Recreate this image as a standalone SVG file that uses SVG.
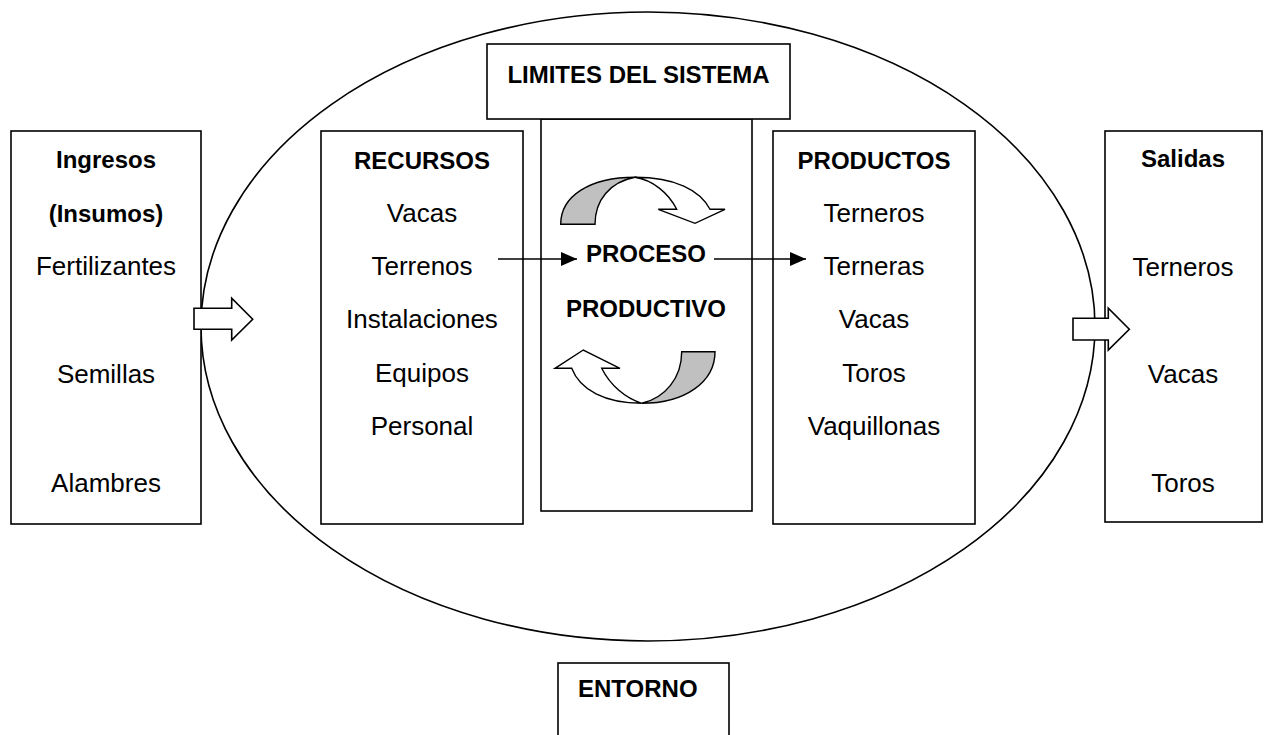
<svg xmlns="http://www.w3.org/2000/svg" width="1273" height="735" viewBox="0 0 1273 735">
<defs>
<style>
.box{fill:#fff;stroke:#000;stroke-width:1.6}
.t{font-family:"Liberation Sans",Arial,sans-serif;font-size:26px;fill:#000;text-anchor:middle}
.b{font-family:"Liberation Sans",Arial,sans-serif;font-size:24px;font-weight:bold;fill:#000;text-anchor:middle}
.blk{fill:#fff;stroke:#000;stroke-width:1.6;stroke-linejoin:miter}
.gray{fill:#c0c0c0;stroke:#000;stroke-width:1.4}
.wht{fill:#fff;stroke:#000;stroke-width:1.4}
.ln{stroke:#000;stroke-width:1.6;fill:none}
</style>
<marker id="ah2" viewBox="0 0 16 14" refX="16" refY="7" markerWidth="16" markerHeight="14" markerUnits="userSpaceOnUse" orient="auto">
<path d="M0,0 L16,7 L0,14 Z" fill="#000"/>
</marker>
</defs>
<rect width="1273" height="735" fill="#fff"/>

<g id="limites-sistema">
<ellipse cx="648" cy="326.5" rx="447" ry="314.5" fill="none" stroke="#000" stroke-width="1.6"/>
</g>

<g id="ingresos">
<rect class="box" x="11" y="131" width="190" height="393"/>
<text class="b" x="106" y="168">Ingresos</text>
<text class="b" x="106" y="222">(Insumos)</text>
<text class="t" x="106" y="275">Fertilizantes</text>
<text class="t" x="106" y="383">Semillas</text>
<text class="t" x="106" y="492">Alambres</text>
</g>

<g id="recursos">
<rect class="box" x="321" y="131" width="202" height="393"/>
<text class="b" x="422" y="169">RECURSOS</text>
<text class="t" x="422" y="222">Vacas</text>
<text class="t" x="422" y="275">Terrenos</text>
<text class="t" x="422" y="328">Instalaciones</text>
<text class="t" x="422" y="382">Equipos</text>
<text class="t" x="422" y="435">Personal</text>
</g>

<g id="proceso">
<rect class="box" x="541" y="119" width="211" height="392"/>
<text class="b" x="646" y="262">PROCESO</text>
<text class="b" x="646" y="317">PRODUCTIVO</text>
<path class="gray" d="M560.7,224.3 C560.7,196 590,177.3 635,177.3 C610,182 595,200 595,224.3 Z"/>
<path class="wht" d="M635,177.3 C675,177.3 700,190 710,209.3 L725,209.3 L695,223.3 L658.3,209.3 L676.7,209.3 C668,192 652,180 635,177.3 Z"/>
<path class="gray" d="M715,351.7 C715,382 685,403.3 641.7,403.3 C665,398 681.7,378 681.7,351.7 Z"/>
<path class="wht" d="M641.7,403.3 C605,403.3 580,390 571.7,368.3 L555,368.3 L583.3,350 L620,368.3 L601.7,368.3 C610,385 625,398 641.7,403.3 Z"/>
</g>

<g id="limites">
<rect class="box" x="487" y="44" width="303" height="75"/>
<text class="b" x="638.5" y="83">LIMITES DEL SISTEMA</text>
</g>

<g id="productos">
<rect class="box" x="773" y="131" width="202" height="393"/>
<text class="b" x="874" y="169">PRODUCTOS</text>
<text class="t" x="874" y="222">Terneros</text>
<text class="t" x="874" y="275">Terneras</text>
<text class="t" x="874" y="328">Vacas</text>
<text class="t" x="874" y="382">Toros</text>
<text class="t" x="874" y="435">Vaquillonas</text>
</g>

<g id="salidas">
<rect class="box" x="1105" y="131" width="157" height="391"/>
<text class="b" x="1183" y="167">Salidas</text>
<text class="t" x="1183" y="276">Terneros</text>
<text class="t" x="1183" y="383">Vacas</text>
<text class="t" x="1183" y="492">Toros</text>
</g>

<g id="entorno">
<rect class="box" x="558" y="663" width="171" height="100"/>
<text class="b" x="578" y="697" style="text-anchor:start">ENTORNO</text>
</g>

<g id="connectors">
<path class="blk" d="M194,308.3 L231.7,308.3 L231.7,298.3 L252.7,319.3 L231.7,340 L231.7,329.3 L194,329.3 Z"/>
<path class="blk" d="M1073,318.3 L1108.3,318.3 L1108.3,308.3 L1129.3,329.3 L1108.3,350 L1108.3,340 L1073,340 Z"/>
<line class="ln" x1="498" y1="259" x2="577" y2="259" marker-end="url(#ah2)"/>
<line class="ln" x1="714" y1="259" x2="806" y2="259" marker-end="url(#ah2)"/>
</g>
</svg>
